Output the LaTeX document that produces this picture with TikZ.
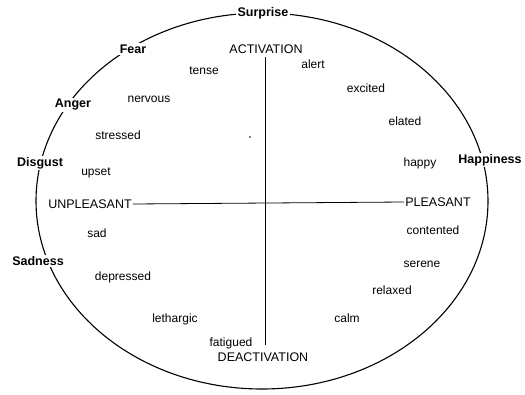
\documentclass[tikz,border=0pt]{standalone}
\usepackage{fontspec}
\setmainfont{Liberation Sans}
\begin{document}
\begin{tikzpicture}[x=1pt,y=-1pt,
  word/.style={font=\fontsize{12}{14}\selectfont, inner sep=1pt},
  emo/.style={font=\fontsize{12.5}{14}\selectfont\bfseries, fill=white, inner sep=1.5pt},
  axis/.style={font=\fontsize{12.5}{14}\selectfont, inner sep=1pt},
  ring/.style={line width=1.1pt},
  line/.style={line width=0.8pt}]
\useasboundingbox (0,0) rectangle (525,394);
\draw[ring] (262,201) ellipse [x radius=226, y radius=188];
% emotion labels on the circle
\node[emo] (surprise) at (263,13) {Surprise};
\node[emo] (fear) at (133,49) {Fear};
\node[emo] (anger) at (73,105) {Anger};
\node[emo] (disgust) at (40,163) {Disgust};
\node[emo] (sadness) at (38,261) {Sadness};
\node[emo] (happiness) at (490,160) {Happiness};
% axes
\node[axis] (act) at (266,49) {ACTIVATION};
\node[axis] (deact) at (263,357) {DEACTIVATION};
\node[axis] (unpl) at (90,204) {UNPLEASANT};
\node[axis] (pl) at (438,202) {PLEASANT};
\coordinate (vtop) at (265,57);
\coordinate (vbot) at (265,345);
\draw[line] (vtop) -- (vbot);
\draw[line] (unpl.east) -- (pl.west);
% words
\node[word] (tense) at (204,71) {tense};
\node[word] (alert) at (313,64) {alert};
\node[word] (nervous) at (149,99) {nervous};
\node[word] (excited) at (366,88) {excited};
\node[word] (elated) at (405,121) {elated};
\node[word] (stressed) at (118,135) {stressed};
\node[word] (upset) at (96,173) {upset};
\node[word] (happy) at (420,163) {happy};
\node[word] (sad) at (97,233) {sad};
\node[word] (contented) at (433,230) {contented};
\node[word] (depressed) at (123,277) {depressed};
\node[word] (serene) at (422,264) {serene};
\node[word] (relaxed) at (392,290) {relaxed};
\node[word] (lethargic) at (175,319) {lethargic};
\node[word] (calm) at (347,318) {calm};
\node[word] (fatigued) at (231,343) {fatigued};
\fill (250,137) circle (0.8);
\end{tikzpicture}
\end{document}
